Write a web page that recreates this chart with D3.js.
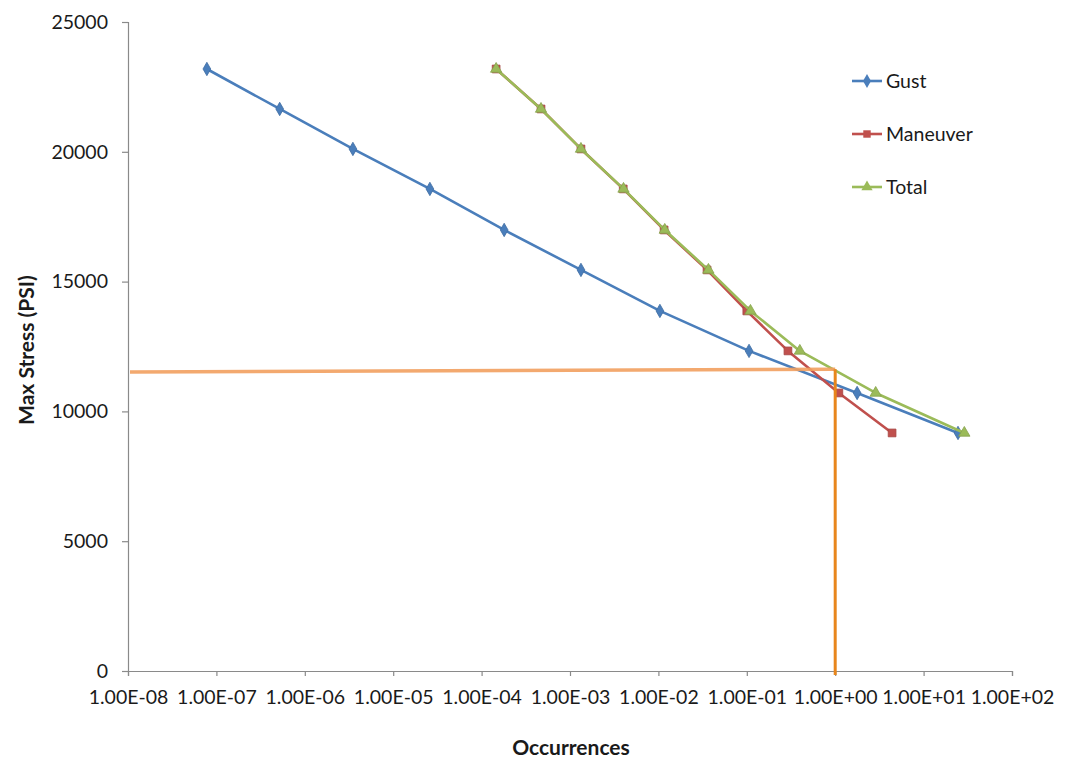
<!DOCTYPE html>
<html>
<head>
<meta charset="utf-8">
<script src="https://cdn.jsdelivr.net/npm/d3@7"></script>
<style>
  html, body { margin: 0; padding: 0; background: #ffffff; }
  svg { display: block; }
  text { font-family: Lato, "Open Sans", sans-serif; fill: #1a1a1a; }
</style>
</head>
<body>
<svg id="chart" width="1068" height="765"></svg>
<script>
// Stress levels shared by every series (PSI)
const stress = [23190, 21650, 20110, 18570, 16990, 15450, 13870, 12330, 10710, 9170];

// Occurrences for each stress level
const gust     = [7.8e-8, 5.2e-7, 3.5e-6, 2.6e-5, 1.8e-4, 1.33e-3, 1.04e-2, 0.106, 1.77, 24.5];
const maneuver = [1.46e-4, 4.7e-4, 1.33e-3, 4.0e-3, 1.16e-2, 3.55e-2, 0.10, 0.292, 1.10, 4.4];
const total    = [1.46e-4, 4.7e-4, 1.33e-3, 4.03e-3, 1.18e-2, 3.68e-2, 0.110, 0.398, 2.87, 28.9];

// Reference lines: design stress read across to the occurrence curve
const refStress = [11520, 11620];
const refOccurrence = 1;

const xTicks = [1e-8, 1e-7, 1e-6, 1e-5, 1e-4, 1e-3, 1e-2, 1e-1, 1e0, 1e1, 1e2];
const yTicks = [0, 5000, 10000, 15000, 20000, 25000];

const seriesNames  = ["Gust", "Maneuver", "Total"];
const seriesColors = ["#4a7ebb", "#c0504d", "#9bbb59"];
const seriesMarkers = [d3.symbolDiamond, d3.symbolSquare, d3.symbolTriangle];

const svg = d3.select("#chart");
const margin = { left: 128, right: 1012, top: 22, bottom: 671 };

const x = d3.scaleLog().domain([1e-8, 1e2]).range([margin.left, margin.right]);
const y = d3.scaleLinear().domain([0, 25000]).range([margin.bottom, margin.top]);

const axisColor = "#8a8a8a";

// Y axis
const yAxis = svg.append("g")
  .attr("transform", `translate(${margin.left},0)`)
  .call(d3.axisLeft(y).tickValues(yTicks).tickSize(6).tickPadding(14).tickFormat(d3.format("d")));
yAxis.selectAll("path, line").attr("stroke", axisColor).attr("stroke-width", 1.2);
yAxis.selectAll("text").style("font-size", "19.5px").style("font-family", "Lato, 'Open Sans', sans-serif").attr("fill", "#1a1a1a");

// X axis
const fmtSci = d => {
  const e = Math.round(Math.log10(d));
  const sign = e < 0 ? "-" : "+";
  return "1.00E" + sign + String(Math.abs(e)).padStart(2, "0");
};
const xAxis = svg.append("g")
  .attr("transform", `translate(0,${margin.bottom})`)
  .call(d3.axisBottom(x).tickValues(xTicks).tickSize(5).tickPadding(14).tickFormat(fmtSci));
xAxis.selectAll("path, line").attr("stroke", axisColor).attr("stroke-width", 1.2);
xAxis.selectAll("text").style("font-size", "19.5px").style("font-family", "Lato, 'Open Sans', sans-serif").attr("fill", "#1a1a1a");

// Axis titles
svg.append("text")
  .attr("x", 571).attr("y", 755)
  .attr("text-anchor", "middle")
  .style("font-size", "21px").style("font-weight", "bold")
  .text("Occurrences");
svg.append("text")
  .attr("transform", "translate(34,350) rotate(-90)")
  .attr("text-anchor", "middle")
  .style("font-size", "21px").style("font-weight", "bold")
  .text("Max Stress (PSI)");

// Series
const seriesData = [gust, maneuver, total];
const line = d3.line().x(d => x(d[0])).y(d => y(d[1]));

seriesData.forEach((occ, i) => {
  const pts = occ.map((o, j) => [o, stress[j]]);
  svg.append("path")
    .datum(pts)
    .attr("fill", "none")
    .attr("stroke", seriesColors[i])
    .attr("stroke-width", 2.6)
    .attr("stroke-linejoin", "round")
    .attr("d", line);
  const size = i === 1 ? 60 : (i === 0 ? 52 : 55);
  svg.append("g").selectAll("path")
    .data(pts)
    .join("path")
    .attr("transform", d => `translate(${x(d[0])},${y(d[1])})`)
    .attr("d", d3.symbol().type(seriesMarkers[i]).size(size))
    .attr("fill", seriesColors[i])
    .attr("stroke", d3.color(seriesColors[i]).darker(0.4))
    .attr("stroke-width", 0.8);
});

// Reference lines
svg.append("line")
  .attr("x1", x(1e-8) + 2).attr("y1", y(refStress[0]))
  .attr("x2", x(refOccurrence)).attr("y2", y(refStress[1]))
  .attr("stroke", "#f2a060").attr("stroke-width", 3.5).attr("opacity", 0.9);
svg.append("line")
  .attr("x1", x(refOccurrence)).attr("y1", y(refStress[1]))
  .attr("x2", x(refOccurrence)).attr("y2", y(0) + 4)
  .attr("stroke", "#e8861c").attr("stroke-width", 3);

// Legend
const legend = svg.append("g");
seriesNames.forEach((name, i) => {
  const ly = 81 + i * 53;
  legend.append("line")
    .attr("x1", 852).attr("x2", 882).attr("y1", ly).attr("y2", ly)
    .attr("stroke", seriesColors[i]).attr("stroke-width", 2.6);
  legend.append("path")
    .attr("transform", `translate(867,${ly})`)
    .attr("d", d3.symbol().type(seriesMarkers[i]).size(55))
    .attr("fill", seriesColors[i]);
  legend.append("text")
    .attr("x", 886).attr("y", ly + 7)
    .style("font-size", "19.5px")
    .text(name);
});
</script>
</body>
</html>
